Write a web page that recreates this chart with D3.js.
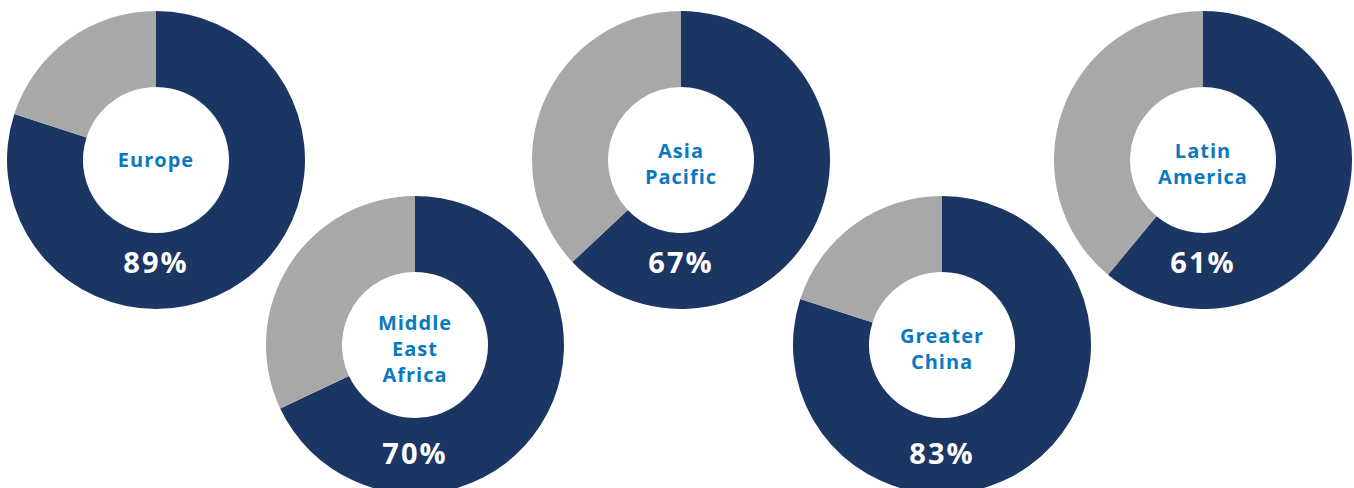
<!DOCTYPE html>
<html>
<head>
<meta charset="utf-8">
<script src="https://cdn.jsdelivr.net/npm/d3@7"></script>
<style>
  body { margin: 0; background: #fff; }
  svg { display: block; }
  .region { font-family: "Open Sans", sans-serif; font-weight: 700; font-size: 20px; fill: #0b79c1; letter-spacing: 1px; }
  .pct { font-family: "Open Sans", sans-serif; font-weight: 700; font-size: 29px; fill: #fff; letter-spacing: 2px; }
</style>
</head>
<body>
<script>
// regions, the printed percentage and the dark share the ring actually shows
var regions = [["Europe"], ["Middle", "East", "Africa"], ["Asia", "Pacific"], ["Greater", "China"], ["Latin", "America"]];
var labels = [89, 70, 67, 83, 61];
var shares = [80, 68, 63, 80, 61];

var width = 1354, height = 488,
    outerR = 149, innerR = 73;

var svg = d3.select("body").append("svg")
    .attr("width", width)
    .attr("height", height);

// donuts are staggered in two rows
var x = d3.scaleOrdinal().domain(d3.range(regions.length)).range([156, 415, 681, 942, 1203]);
var rowY = [160, 345];

var pie = d3.pie().sort(null).value(function(d) { return d; });
var arc = d3.arc().innerRadius(innerR).outerRadius(outerR);
var colors = ["#1c3664", "#a8a8a8"];

var g = svg.selectAll("g.donut")
    .data(regions)
    .enter()
    .append("g")
    .attr("class", "donut")
    .attr("transform", function(d, i) {
        return "translate(" + x(i) + "," + rowY[i % 2] + ")";
    });

g.selectAll("path")
    .data(function(d, i) { return pie([shares[i], 100 - shares[i]]); })
    .enter()
    .append("path")
    .attr("d", arc)
    .style("fill", function(d, i) { return colors[i]; });

g.each(function(lines, i) {
    var n = lines.length;
    var start = (n === 1 ? 7 : 10.5) - (n - 1) * 13;
    d3.select(this).selectAll("text.region")
        .data(lines)
        .enter()
        .append("text")
        .attr("class", "region")
        .attr("text-anchor", "middle")
        .attr("y", function(l, j) { return start + j * 26; })
        .text(function(l) { return l; });

    d3.select(this).append("text")
        .attr("class", "pct")
        .attr("text-anchor", "middle")
        .attr("y", i % 2 ? 119 : 113)
        .text(labels[i] + "%");
});
</script>
</body>
</html>
